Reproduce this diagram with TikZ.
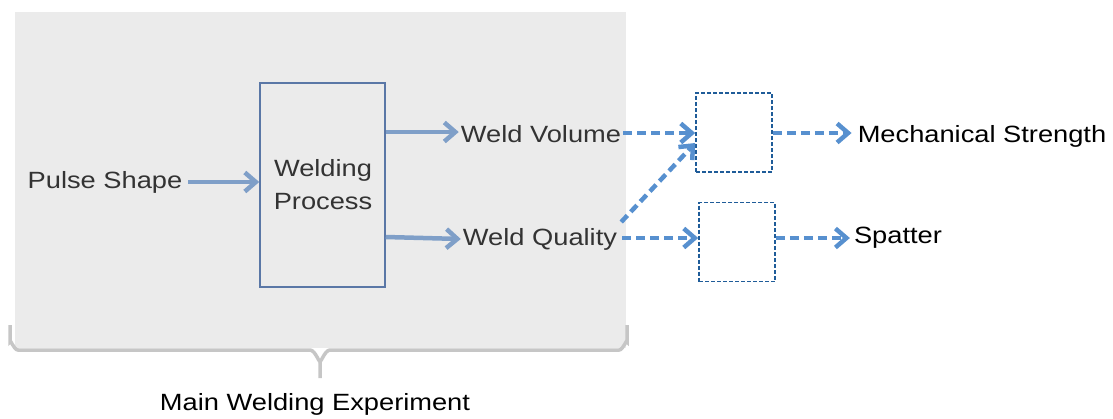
\documentclass[tikz,border=0pt]{standalone}
\usepackage{fontspec}
\setmainfont{Liberation Sans}
\usetikzlibrary{arrows.meta}
\definecolor{panel}{HTML}{EBEBEB}
\definecolor{bracegray}{HTML}{C6C6C6}
\definecolor{solidarrow}{HTML}{7F9FC8}
\definecolor{dasharrow}{HTML}{5790CF}
\definecolor{procedge}{HTML}{5A77A6}
\definecolor{dashedge}{HTML}{1F5C99}
\definecolor{darktext}{HTML}{333333}
\newcommand{\wtxt}[1]{\scalebox{1.16}[1]{#1}}
\tikzset{
  lbl/.style={inner sep=0pt, font=\fontsize{23.5}{33}\selectfont},
  barb/.style={-{Straight Barb[length=11pt,width=19pt,line width=4.5pt]}},
  flow/.style={draw=solidarrow, line width=4.5pt, barb},
  dflow/.style={draw=dasharrow, line width=4.5pt, dash pattern=on 9pt off 5pt, barb},
  procbox/.style={draw=procedge, line width=1.5pt, minimum width=125pt, minimum height=204pt, inner sep=0pt},
  dbox/.style={draw=dashedge, line width=1.6pt, dash pattern=on 4pt off 2pt, minimum width=76pt, minimum height=79pt, inner sep=0pt},
}
\begin{document}
\begin{tikzpicture}[x=1pt,y=-1pt]
\useasboundingbox (0,0) rectangle (1113,418);
% experiment panel
\fill[panel] (15,12) rectangle (626,348);
% brace under the panel
\draw[bracegray, line width=3.5pt]
  (10,325) -- (10,342) to[out=90,in=180] (18,350) -- (310,350)
  to[out=0,in=-90] (320,360) -- (320,378);
\draw[bracegray, line width=3.5pt]
  (320,360) to[out=-90,in=180] (330,350) -- (619,350)
  to[out=0,in=90] (627,342) -- (627,325);
% process block
\node[procbox] (wp) at (322.5,185) {};
\node[lbl, darktext, align=center] (wpt) at (323,185) {\wtxt{Welding}\\\wtxt{Process}};
% inputs and outputs
\node[lbl, darktext] (ps) at (105,182) {\wtxt{Pulse Shape}};
\node[lbl, darktext] (wv) at (541,134) {\wtxt{Weld Volume}};
\node[lbl, darktext] (wq) at (540,239) {\wtxt{Weld Quality}};
% empty dashed blocks
\node[dbox] (b1) at (734,132.5) {};
\node[dbox] (b2) at (737,242) {};
% results
\node[lbl] (ms) at (982,136) {\wtxt{Mechanical Strength}};
\node[lbl] (sp) at (898,238) {\wtxt{Spatter}};
\node[lbl] (mwe) at (315,404) {\wtxt{Main Welding Experiment}};
% solid connectors
\draw[flow] (ps.east) ++(6,0) -- (wp.west |- 0,182);
\draw[flow] (wp.east |- 0,132) -- ([xshift=-2pt]wv.west |- 0,132);
\draw[flow] (wp.east |- 0,237) -- ([xshift=-2pt]wq.west |- 0,239);
% dashed connectors
\draw[dflow] ([xshift=2pt]wv.east |- 0,133) -- (b1.west |- 0,133);
\draw[dflow] ([xshift=4pt]wq.east |- 0,222) -- (b1.west |- 0,143);
\draw[dflow] ([xshift=5pt]wq.east |- 0,238) -- (b2.west |- 0,238);
\draw[dflow] (b1.east |- 0,133) -- ([xshift=-6pt]ms.west |- 0,133);
\draw[dflow] (b2.east |- 0,238) -- ([xshift=-4pt]sp.west |- 0,238);
\end{tikzpicture}
\end{document}
